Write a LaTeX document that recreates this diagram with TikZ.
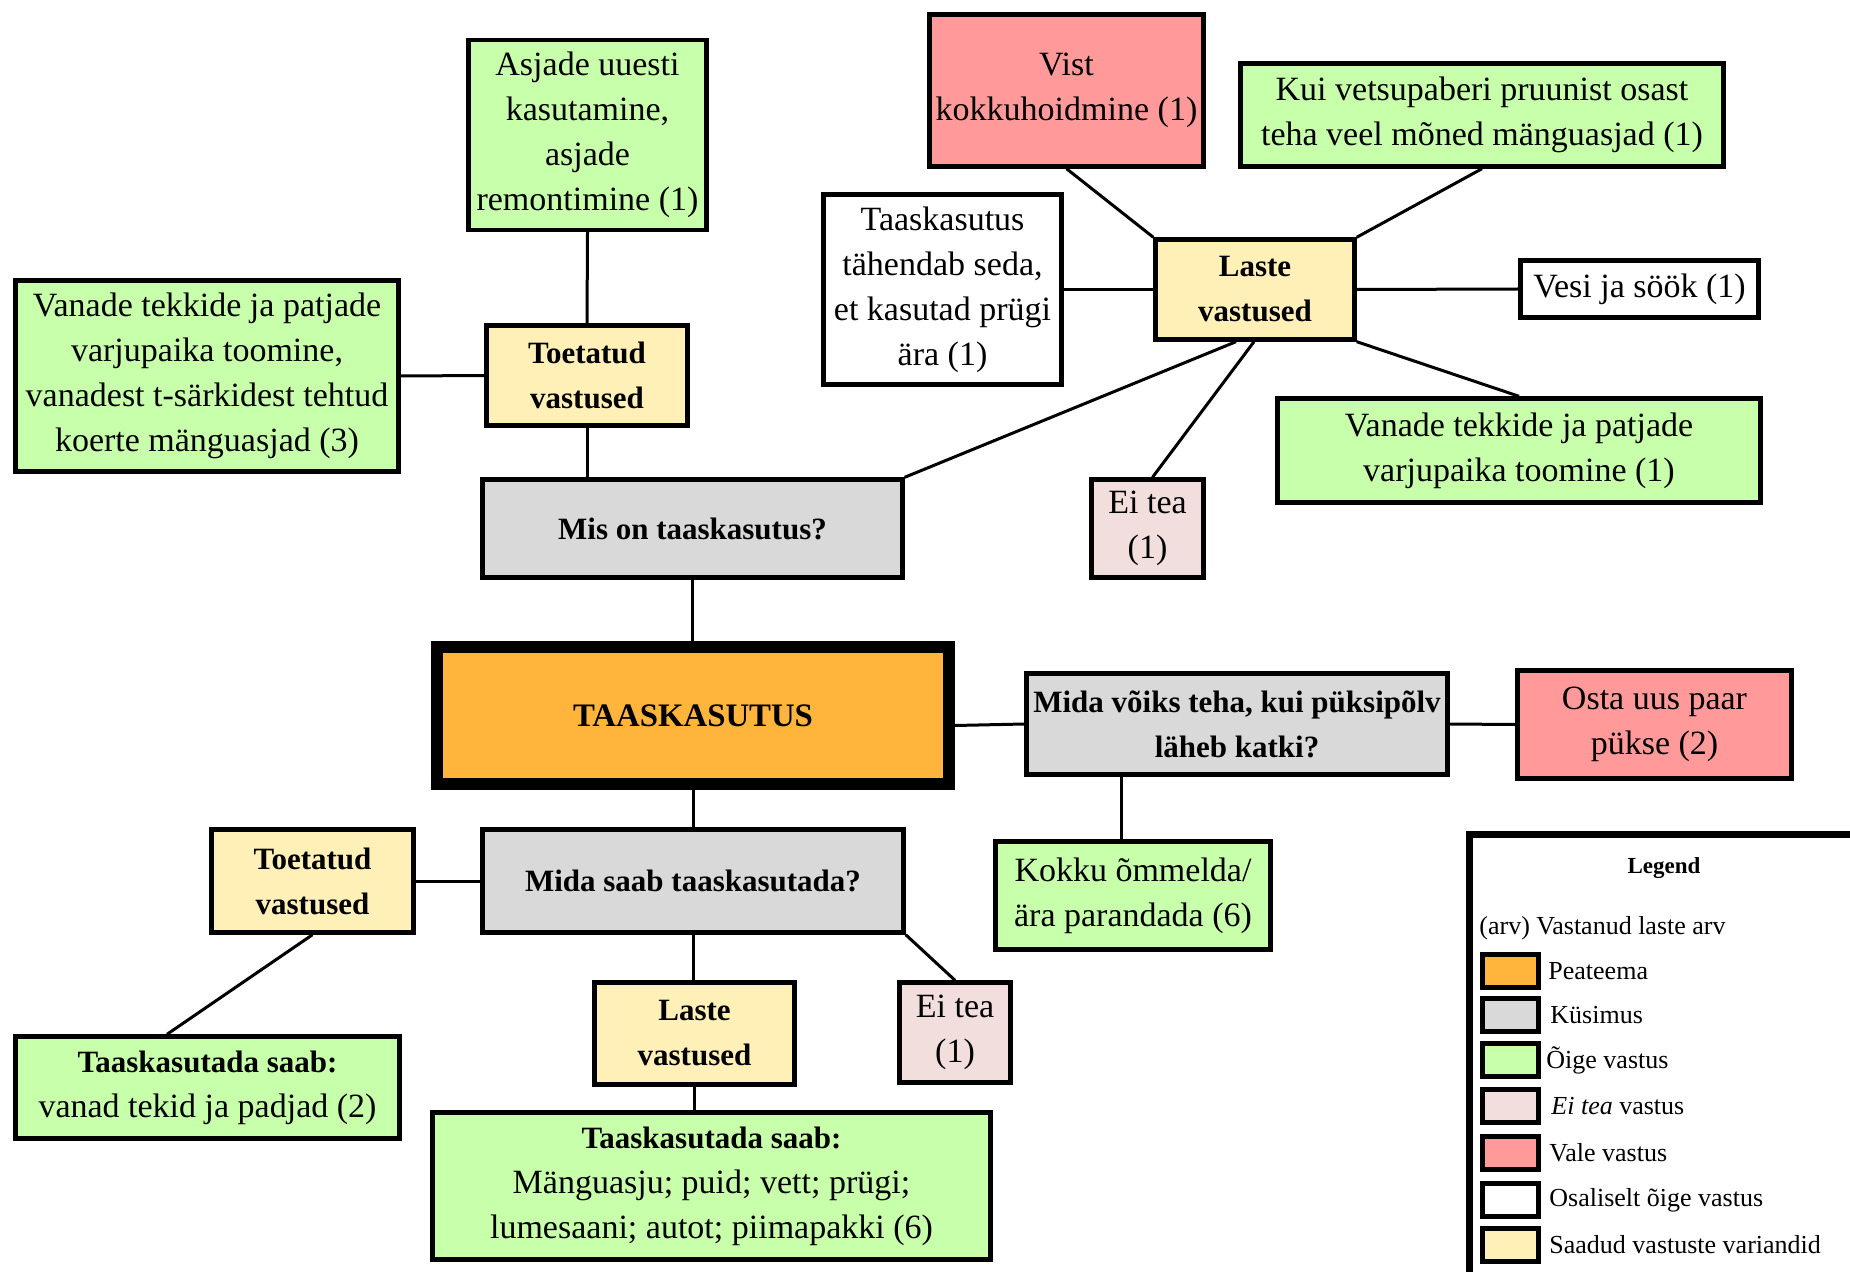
\documentclass[tikz,border=0pt]{standalone}
\usepackage{fontspec}
\setmainfont{Liberation Serif}
\usetikzlibrary{calc}
\definecolor{cOrange}{HTML}{FFB53C}
\definecolor{cGrey}{HTML}{D9D9D9}
\definecolor{cGreen}{HTML}{C8FFAA}
\definecolor{cPink}{HTML}{F3DEDE}
\definecolor{cRed}{HTML}{FF999A}
\definecolor{cYellow}{HTML}{FFF0B8}
\tikzset{
  box/.style={draw=black, line width=2.2pt, rectangle, align=center, inner sep=0pt,
    font=\fontsize{17}{22.5}\selectfont},
  green/.style={box, fill=cGreen},
  grey/.style={box, fill=cGrey, font=\fontsize{15.5}{22.5}\selectfont\bfseries},
  yellow/.style={box, fill=cYellow, font=\fontsize{15.5}{22.5}\selectfont\bfseries},
  red/.style={box, fill=cRed},
  pink/.style={box, fill=cPink},
  white/.style={box, fill=white},
  conn/.style={line width=1.5pt, black},
  swatch/.style={draw=black, line width=2.5pt, minimum width=28pt, minimum height=16.5pt, inner sep=0pt},
  legtext/.style={anchor=west, inner sep=0pt, font=\fontsize{13}{15}\selectfont},
}
\begin{document}
\begin{tikzpicture}[x=0.5pt,y=-0.5pt]
\useasboundingbox (0,0) rectangle (1850,1272);
\fill[white] (-40,-40) rectangle (1890,1312);
\clip (-5,-5) rectangle (1855,1277);

% top half
\node[green, minimum width=119pt, minimum height=95pt] (asj) at (587.5,135) {Asjade uuesti\\kasutamine,\\asjade\\remontimine (1)};
\node[green, minimum width=191.5pt, minimum height=95.5pt] (vanL) at (207,376) {Vanade tekkide ja patjade\\varjupaika toomine,\\vanadest t-särkidest tehtud\\koerte mänguasjad (3)};
\node[yellow, minimum width=100.5pt, minimum height=50pt] (toe1) at (587,375.5) {Toetatud\\vastused};
\node[grey, minimum width=210pt, minimum height=49pt] (mis) at (692.5,528.5) {Mis on taaskasutus?};
\node[red, minimum width=137pt, minimum height=76pt] (vist) at (1066.5,90.5) {Vist\\kokkuhoidmine (1)};
\node[green, minimum width=241.5pt, minimum height=51.5pt] (kui) at (1482,115) {Kui vetsupaberi pruunist osast\\teha veel mõned mänguasjad (1)};
\node[white, minimum width=119pt, minimum height=95pt] (taask) at (942.5,289.5) {Taaskasutus\\tähendab seda,\\et kasutad prügi\\ära (1)};
\node[yellow, minimum width=99.5pt, minimum height=50pt] (laste1) at (1255,289.5) {Laste\\vastused};
\node[white, minimum width=119pt, minimum height=28.5pt] (vesi) at (1639.5,289) {Vesi ja söök (1)};
\node[green, minimum width=241.5pt, minimum height=52pt] (vanR) at (1519,450.5) {Vanade tekkide ja patjade\\varjupaika toomine (1)};
\node[pink, minimum width=56pt, minimum height=49pt] (eitea1) at (1147.5,528.5) {Ei tea\\(1)};

% centre
\node[box, fill=cOrange, line width=6pt, minimum width=256pt, minimum height=68.5pt, font=\fontsize{16.4}{22.5}\selectfont\bfseries] (main) at (693,715.5) {TAASKASUTUS};
\node[grey, minimum width=210.5pt, minimum height=50.5pt] (mv) at (1237,724) {Mida võiks teha, kui püksipõlv\\läheb katki?};
\node[red, minimum width=137pt, minimum height=54pt] (osta) at (1654.5,724.5) {Osta uus paar\\pükse (2)};
\node[green, minimum width=137.5pt, minimum height=54pt] (kokku) at (1133,895.5) {Kokku õmmelda/\\ära parandada (6)};

% bottom half
\node[grey, minimum width=210.5pt, minimum height=51.5pt] (ms) at (693,881) {Mida saab taaskasutada?};
\node[yellow, minimum width=101pt, minimum height=51.5pt] (toe2) at (312.5,881) {Toetatud\\vastused};
\node[green, minimum width=192pt, minimum height=51pt] (tsL) at (207.5,1087.5) {{\fontsize{15.5}{22.5}\selectfont\bfseries Taaskasutada saab:}\\vanad tekid ja padjad (2)};
\node[yellow, minimum width=100pt, minimum height=51pt] (laste2) at (694.5,1033.5) {Laste\\vastused};
\node[pink, minimum width=55.5pt, minimum height=50pt] (eitea2) at (955,1032.5) {Ei tea\\(1)};
\node[green, minimum width=279pt, minimum height=73.5pt] (tsB) at (711.5,1186) {{\fontsize{15.5}{22.5}\selectfont\bfseries Taaskasutada saab:}\\Mänguasju; puid; vett; prügi;\\lumesaani; autot; piimapakki (6)};

% connectors
\draw[conn] (asj.south) -- (toe1.north);
\draw[conn] (vanL.east) -- (toe1.west);
\draw[conn] (toe1.south) -- (toe1.south |- mis.north);
\draw[conn] (mis.south) -- (mis.south |- main.north);
\draw[conn] (mis.north east) -- ($(laste1.south)+(-19,0)$);
\draw[conn] ($(laste1.south)+(-1,0)$) -- ($(eitea1.north)+(5,0)$);
\draw[conn] (laste1.north west) -- (vist.south);
\draw[conn] (laste1.north east) -- (kui.south);
\draw[conn] (laste1.west) -- (taask.east);
\draw[conn] (laste1.east) -- (vesi.west);
\draw[conn] (laste1.south east) -- (vanR.north);
\draw[conn] ($(main.east)+(0,10)$) -- (mv.west);
\draw[conn] (mv.east) -- (osta.west);
\path ($(kokku.north)+(-12,0)$) coordinate (k1);
\draw[conn] (k1) -- (k1 |- mv.south);
\draw[conn] (main.south) -- (ms.north);
\draw[conn] (ms.west) -- (toe2.east);
\draw[conn] (toe2.south) -- ($(tsL.north)+(-40.5,0)$);
\draw[conn] (ms.south east) -- (eitea2.north);
\draw[conn] (ms.south) -- (ms.south |- laste2.north);
\draw[conn] (laste2.south) -- (laste2.south |- tsB.north);

% legend
\node[draw=black, line width=3.5pt, fill=white, anchor=north west, minimum width=250pt, minimum height=260pt, inner sep=0pt] (legbox) at (1465.5,830.5) {};
\node[inner sep=0pt, font=\fontsize{11.5}{14}\selectfont\bfseries] (legtitle) at (1664,868) {Legend};
\node[legtext] (legarv) at (1479,928) {(arv) Vastanud laste arv};
\node[swatch, fill=cOrange] (s1) at (1510.5,971) {};
\node[swatch, fill=cGrey] (s2) at (1510.5,1015) {};
\node[swatch, fill=cGreen] (s3) at (1510.5,1060) {};
\node[swatch, fill=cPink] (s4) at (1510.5,1106) {};
\node[swatch, fill=cRed] (s5) at (1510.5,1153) {};
\node[swatch, fill=white] (s6) at (1510.5,1200) {};
\node[swatch, fill=cYellow] (s7) at (1510.5,1245) {};
\node[legtext] (l1) at (1548,971) {Peateema};
\node[legtext] (l2) at (1550,1015) {Küsimus};
\node[legtext] (l3) at (1546,1060) {Õige vastus};
\node[legtext] (l4) at (1551,1106) {\textit{Ei tea} vastus};
\node[legtext] (l5) at (1549,1153) {Vale vastus};
\node[legtext] (l6) at (1549,1200) {Osaliselt õige vastus};
\node[legtext] (l7) at (1549,1245) {Saadud vastuste variandid};
\end{tikzpicture}
\end{document}
